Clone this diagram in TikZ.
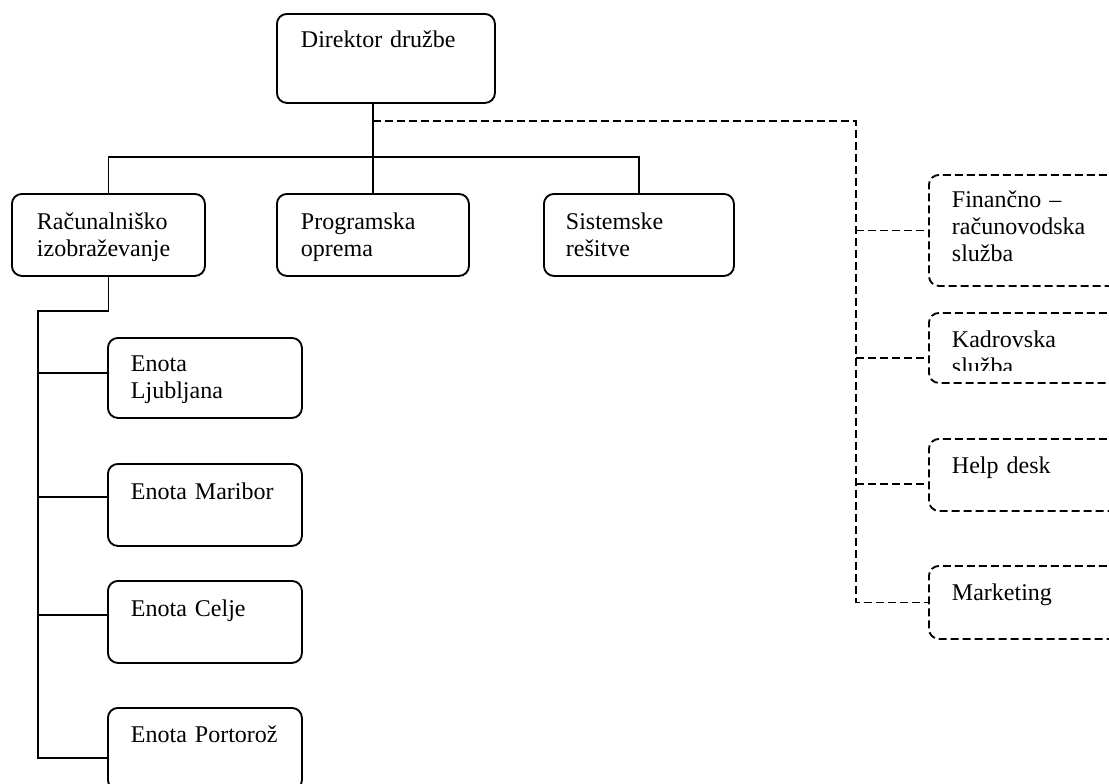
\documentclass[tikz,border=0pt]{standalone}
\usepackage{fontspec}
\setmainfont{Liberation Serif}

\begin{document}
\begin{tikzpicture}[x=0.75pt,y=-0.75pt,line width=1.4pt,
    unitbox/.style={draw,rounded corners=7.5pt,anchor=north west,inner sep=0pt},
    staffbox/.style={unitbox,dash pattern=on 6pt off 3pt},
    boxtext/.style={anchor=base west,inner sep=0pt,text width=135pt,align=left,font=\fontsize{18}{20.4}\selectfont},
    dashline/.style={dash pattern=on 6pt off 3pt}]
                \useasboundingbox (0,0) rectangle (1109,783);
                \node [unitbox,minimum width=218*0.75pt,minimum height=89*0.75pt] (dir) at (276,13) {};
                \node [unitbox,minimum width=193*0.75pt,minimum height=82*0.75pt] (rac) at (11,193) {};
                \node [unitbox,minimum width=192*0.75pt,minimum height=82*0.75pt] (prog) at (276,193) {};
                \node [unitbox,minimum width=190*0.75pt,minimum height=82*0.75pt] (sis) at (543,193) {};
                \node [unitbox,minimum width=194*0.75pt,minimum height=80*0.75pt] (lj) at (107,337) {};
                \node [unitbox,minimum width=194*0.75pt,minimum height=82*0.75pt] (mb) at (107,463) {};
                \node [unitbox,minimum width=194*0.75pt,minimum height=82*0.75pt] (ce) at (107,580) {};
                \node [unitbox,minimum width=194*0.75pt,minimum height=82*0.75pt] (po) at (107,707) {};
                \node [staffbox,minimum width=200*0.75pt,minimum height=111*0.75pt] (fin) at (928,174) {};
                \node [staffbox,minimum width=200*0.75pt,minimum height=70*0.75pt] (kad) at (928,312) {};
                \node [staffbox,minimum width=200*0.75pt,minimum height=72*0.75pt] (help) at (928,438) {};
                \node [staffbox,minimum width=200*0.75pt,minimum height=73*0.75pt] (mark) at (928,565) {};

                \node [boxtext] (dirT) at ([shift={(24,34)}]dir.north west) {Direktor družbe};
                \node [boxtext] (racT) at ([shift={(25,36)}]rac.north west) {Računalniško\\izobraževanje};
                \node [boxtext] (progT) at ([shift={(24,36)}]prog.north west) {Programska\\oprema};
                \node [boxtext] (sisT) at ([shift={(22,36)}]sis.north west) {Sistemske\\rešitve};
                \node [boxtext] (ljT) at ([shift={(23,34)}]lj.north west) {Enota\\Ljubljana};
                \node [boxtext] (mbT) at ([shift={(23,36)}]mb.north west) {Enota Maribor};
                \node [boxtext] (ceT) at ([shift={(23,36)}]ce.north west) {Enota Celje};
                \node [boxtext] (poT) at ([shift={(23,35)}]po.north west) {Enota Portorož};
                \node [boxtext] (finT) at ([shift={(23,33)}]fin.north west) {Finančno –\\računovodska\\služba};
                \begin{scope}
                \clip (kad.north west) rectangle ([shift={(0,-13)}]kad.south east);
                \node [boxtext] (kadT) at ([shift={(23,35)}]kad.north west) {Kadrovska\\služba};
                \end{scope}
                \node [boxtext] (helpT) at ([shift={(23,35)}]help.north west) {Help desk};
                \node [boxtext] (markT) at ([shift={(23,35)}]mark.north west) {Marketing};

                \draw (dir.south -| prog.north) -- (prog.north);
                \draw (rac.north) -- ++(0,-36) -| (sis.north);

                \coordinate (tap) at (prog.north |- 0,121);
                \coordinate (bus) at (856,121);
                \draw [dashline] (tap) -- (bus) |- (mark.west);
                \draw [dashline] (bus |- fin.west) -- (fin.west);
                \draw [dashline] ([shift={(0,10)}]kad.west -| bus) -- ([shift={(0,10)}]kad.west);
                \draw [dashline] ([shift={(0,9)}]help.west -| bus) -- ([shift={(0,9)}]help.west);

                \coordinate (spine) at (38,311);
                \draw (rac.south) |- (spine) |- ([shift={(0,9)}]po.west);
                \draw (spine |- lj.west) ++(0,-5) -- ([shift={(0,-5)}]lj.west);
                \draw (spine |- mb.west) ++(0,-8) -- ([shift={(0,-8)}]mb.west);
                \draw (spine |- ce.west) ++(0,-7) -- ([shift={(0,-7)}]ce.west);
            \end{tikzpicture}
\end{document}
